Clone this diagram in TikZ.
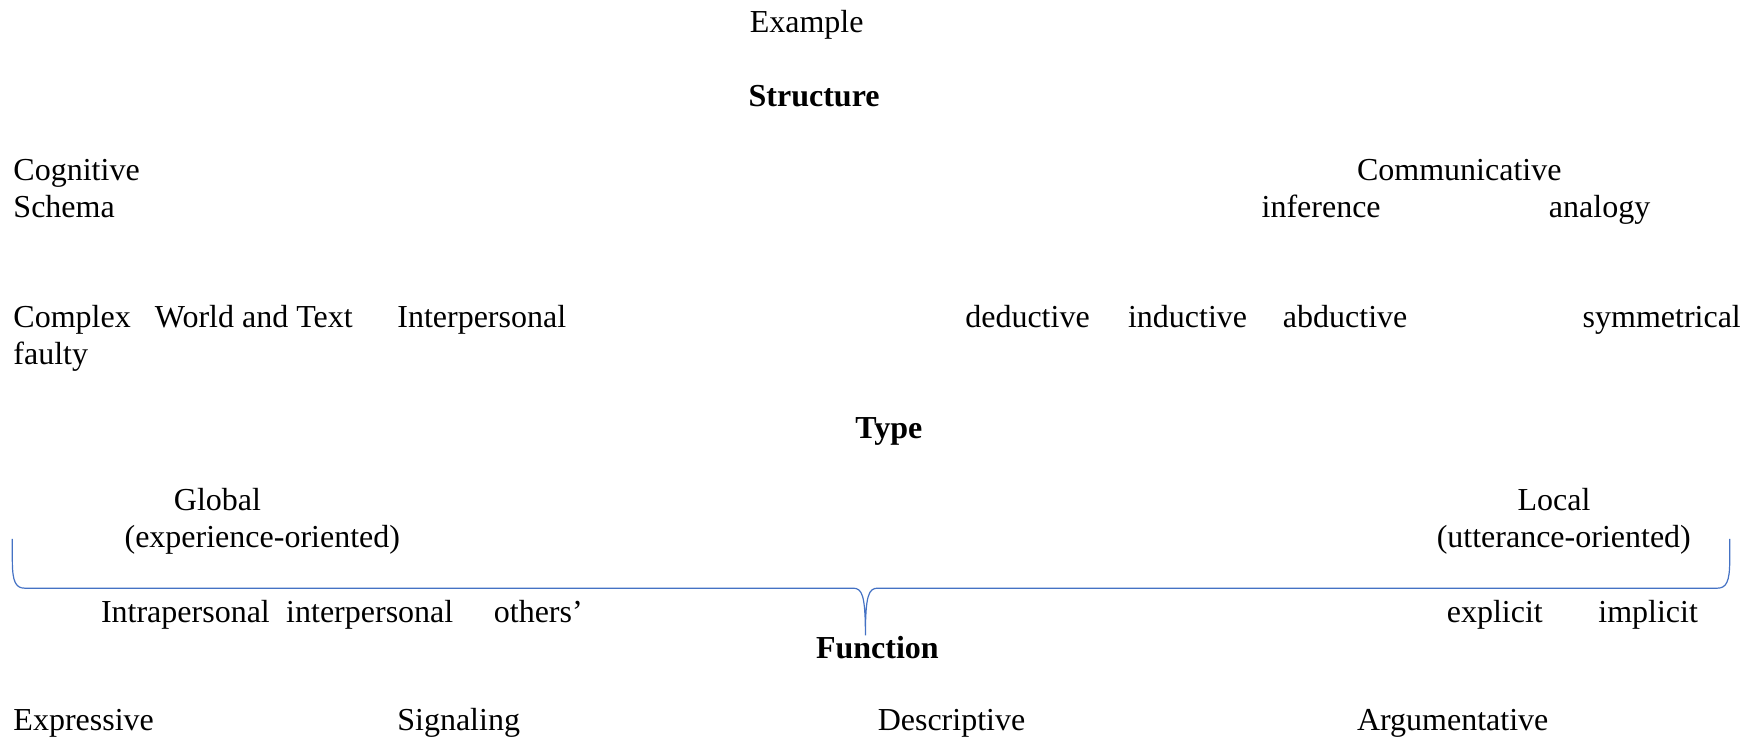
\documentclass[tikz,border=0pt]{standalone}
\usepackage{fontspec}
\setmainfont{Liberation Serif}
\definecolor{bracecol}{HTML}{4472C4}
\begin{document}
\begin{tikzpicture}[x=0.5612pt,y=-0.5612pt,
  txt/.style={inner sep=0pt,outer sep=0pt,anchor=base west,font=\fontsize{16}{18.4}\selectfont},
  hd/.style={txt,font=\fontsize{16}{18.4}\selectfont\bfseries},
  bracepath/.style={draw=bracecol,line width=0.6pt}]
\useasboundingbox (0,0) rectangle (1568,663);
\node[txt] (example) at (668,29) {Example};
\node[hd] (structure) at (667,95) {Structure};
\node[txt] (cognitive) at (12,161) {Cognitive};
\node[txt] (schema) at (12,194) {Schema};
\node[txt] (communicative) at (1209,161) {Communicative};
\node[txt] (inference) at (1124,194) {inference};
\node[txt] (analogy) at (1380,194) {analogy};
\node[txt] (complex) at (12,292) {Complex};
\node[txt] (worldtext) at (138,292) {World and Text};
\node[txt] (interpersonalA) at (354,292) {Interpersonal};
\node[txt] (deductive) at (860,292) {deductive};
\node[txt] (inductive) at (1005,292) {inductive};
\node[txt] (abductive) at (1143,292) {abductive};
\node[txt] (symmetrical) at (1410,292) {symmetrical};
\node[txt] (faulty) at (12,325) {faulty};
\node[hd] (type) at (762,391) {Type};
\node[txt] (global) at (155,455) {Global};
\node[txt] (experience) at (111,488) {(experience-oriented)};
\node[txt] (local) at (1352,455) {Local};
\node[txt] (utterance) at (1280,488) {(utterance-oriented)};
\node[txt] (intrapersonal) at (90,555) {Intrapersonal};
\node[txt] (interpersonalB) at (255,555) {interpersonal};
\node[txt] (others) at (440,555) {others’};
\node[txt] (explicit) at (1289,555) {explicit};
\node[txt] (implicit) at (1424,555) {implicit};
\node[hd] (function) at (727,587) {Function};
\node[txt] (expressive) at (12,651) {Expressive};
\node[txt] (signaling) at (354,651) {Signaling};
\node[txt] (descriptive) at (782,651) {Descriptive};
\node[txt] (argumentative) at (1209,651) {Argumentative};
% brace
\coordinate (bl) at (11,480);
\coordinate (br) at (1541,480);
\coordinate (tip) at (771,566);
\draw[bracepath] (bl) -- (11,500) .. controls (11,518) and (14,524) .. (22,524)
  -- (760,524) .. controls (768,524) and (771,530) .. (tip)
  .. controls (771,530) and (774,524) .. (782,524)
  -- (1530,524) .. controls (1538,524) and (1541,518) .. (1541,500) -- (br);
\end{tikzpicture}
\end{document}
